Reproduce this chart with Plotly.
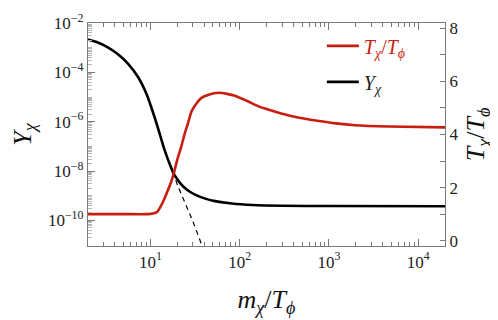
import numpy as np
import plotly.graph_objects as go

# Y_chi (left axis, log10 values)
x_y = [2, 2.54, 3.3, 4.3, 5.6, 7.3, 9.1, 10.8, 12.6, 14.2, 16, 18.2, 21, 24, 28, 34, 42, 53,
       82, 140, 300, 1000, 20000]
log_y = [-2.67, -2.78, -2.98, -3.26, -3.65, -4.2, -4.9, -5.67, -6.44, -7.07, -7.6, -8.1, -8.44,
         -8.67, -8.85, -9.01, -9.13, -9.22, -9.32, -9.38, -9.41, -9.42, -9.43]

# equilibrium (dashed)
x_eq = [15, 18.2, 20, 25, 30, 37.4, 38.5]
log_eq = [-7.35, -8.1, -8.55, -9.35, -10.05, -10.97, -11.1]

# T_chi / T_phi (right axis)
x_t = [2, 5, 9, 10, 11, 11.9, 13, 14.2, 15.5, 17, 18.5, 20.2, 22, 24, 26.5, 29, 33, 37.4, 45,
       58, 72, 90, 120, 166, 230, 309, 450, 741, 1200, 1950, 4700, 20000]
t_ratio = [1.0, 1.0, 1.0, 1.01, 1.03, 1.08, 1.28, 1.54, 1.85, 2.19, 2.6, 3.1, 3.5, 3.98, 4.45,
           4.88, 5.18, 5.38, 5.5, 5.57, 5.53, 5.45, 5.27, 5.05, 4.9, 4.77, 4.64, 4.52, 4.42,
           4.35, 4.3, 4.27]

RED = '#c81e10'
FONT = 'Liberation Serif'
AXCOL = '#7a7a7a'

fig = go.Figure()

fig.add_trace(go.Scatter(x=x_eq, y=[10**v for v in log_eq], mode='lines',
                         line=dict(color='black', width=1.2, dash='5px,4px'),
                         showlegend=False, yaxis='y'))
fig.add_trace(go.Scatter(x=x_y, y=[10**v for v in log_y], mode='lines',
                         line=dict(color='black', width=2.6, shape='spline', smoothing=0.6),
                         name='<i>Y</i><sub><i>χ</i></sub>', legendrank=2,
                         legendgroup='b', yaxis='y'))
fig.add_trace(go.Scatter(x=x_t, y=t_ratio, mode='lines',
                         line=dict(color=RED, width=2.6, shape='spline', smoothing=0.6),
                         name='<span style="color:%s"><i>T</i><sub><i>χ</i></sub>/<i>T</i><sub><i>ϕ</i></sub></span>' % RED,
                         legendrank=1, legendgroup='a', yaxis='y2'))

# tick positions
x_minor = [m * 10**d for d in range(0, 5) for m in range(2, 10)]
y_major = [10.0**d for d in range(-10, -1, 2)]
y_text = ['10<sup>−%d</sup>' % -d for d in range(-10, -1, 2)]
y_minor = [m * 10.0**d for d in range(-12, -2) for m in range(2, 10)]
y_odd = [10.0**d for d in range(-11, -2, 2)]

# page body has an 8px margin, so the figure is 8px smaller
fig.update_layout(
    width=490, height=312,
    margin=dict(l=80, r=53, t=15, b=74),
    plot_bgcolor='white', paper_bgcolor='white',
    font=dict(family=FONT, size=17, color='#222'),
    showlegend=True,
    legend=dict(x=0.655, y=0.985, xanchor='left', yanchor='top',
                bgcolor='rgba(0,0,0,0)', font=dict(size=20, family=FONT),
                tracegroupgap=7, itemwidth=32),
    xaxis=dict(type='log', range=[np.log10(2), np.log10(2e4)], automargin=False,
               tickvals=[10, 100, 1000, 10000],
               ticktext=['10<sup>1</sup>', '10<sup>2</sup>', '10<sup>3</sup>', '10<sup>4</sup>'],
               ticks='inside', ticklen=7, tickcolor=AXCOL,
               showline=True, linecolor=AXCOL, linewidth=1.2, mirror='ticks',
               showgrid=False, zeroline=False,
               minor=dict(tickmode='array', tickvals=x_minor, ticks='inside', ticklen=4,
                          tickcolor=AXCOL, showgrid=False),
               title=dict(text='<i>m</i><sub><i>χ</i></sub>/<i>T</i><sub><i>ϕ</i></sub>',
                          font=dict(size=26, family=FONT, color='#111'), standoff=19)),
    yaxis=dict(type='log', range=[-11.04, -2], automargin=False,
               tickvals=y_major, ticktext=y_text,
               ticks='inside', ticklen=7, tickcolor=AXCOL,
               showline=True, linecolor=AXCOL, linewidth=1.2,
               showgrid=False, zeroline=False,
               minor=dict(tickmode='array', tickvals=y_minor + y_odd, ticks='inside', ticklen=4,
                          tickcolor='#b5b5b5', showgrid=False),
               title=dict(text='<i>Y</i><sub><i>χ</i></sub>',
                          font=dict(size=26, family=FONT, color='#111'), standoff=16)),
    yaxis2=dict(overlaying='y', side='right', range=[-0.2, 8.2], automargin=False,
                tickvals=[0, 2, 4, 6, 8], ticks='inside', ticklen=5, tickcolor=AXCOL,
                showline=True, linecolor=AXCOL, linewidth=1.2,
                showgrid=False, zeroline=False,
                minor=dict(dtick=1, ticks='inside', ticklen=5, tickcolor=AXCOL),
                title=dict(text='<i>T</i><sub><i>χ</i></sub>/<i>T</i><sub><i>ϕ</i></sub>',
                           font=dict(size=26, family=FONT, color='#111'), standoff=8)),
)

fig.write_html("out.html")
